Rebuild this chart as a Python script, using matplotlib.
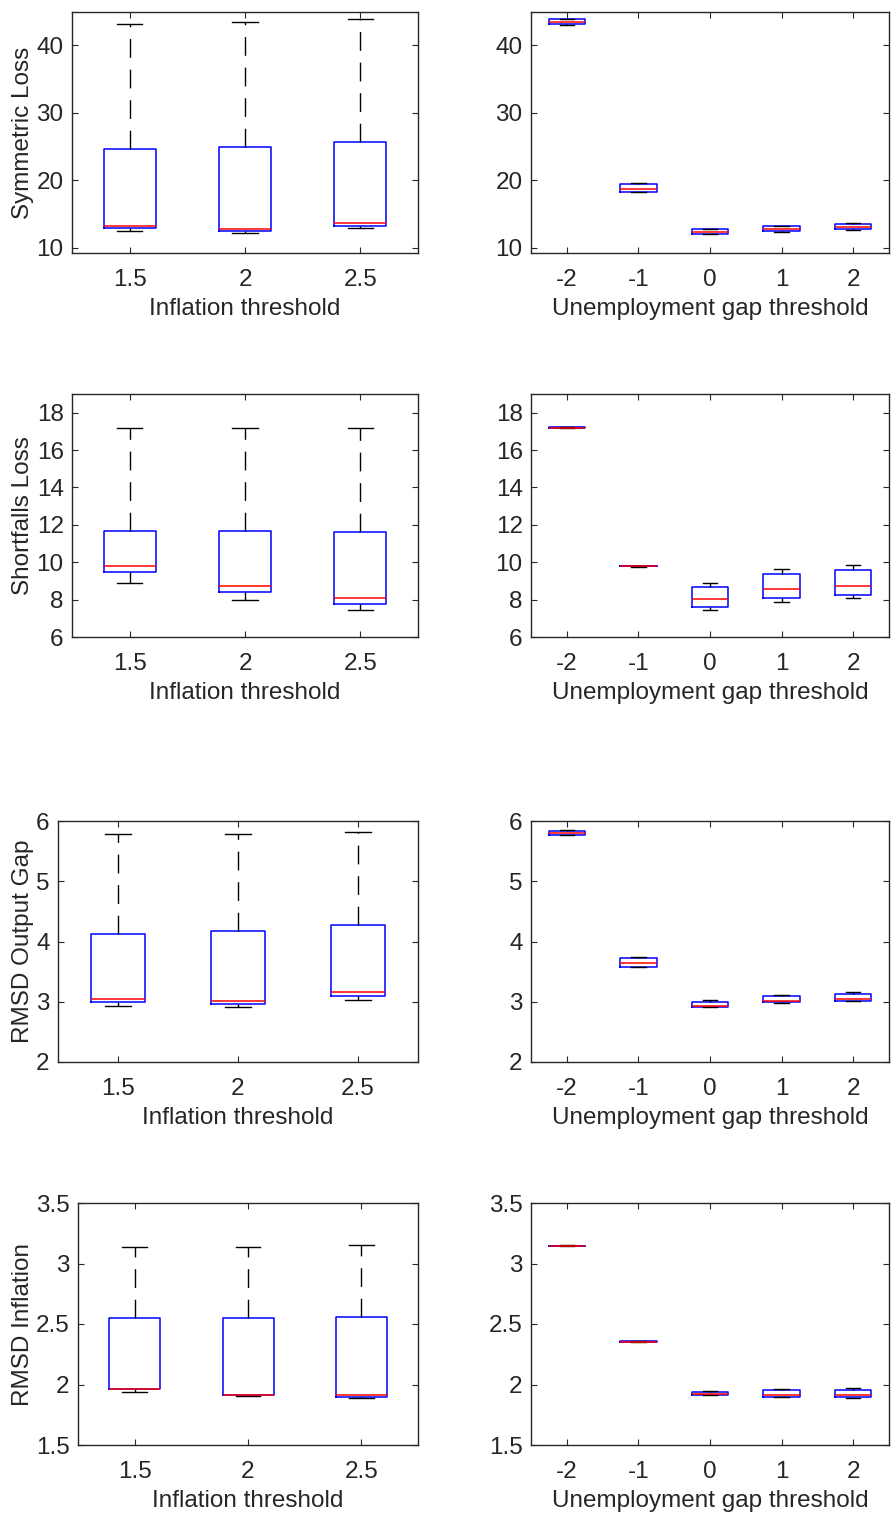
import matplotlib
matplotlib.use('Agg')
import matplotlib.pyplot as plt

plt.rcParams['font.family'] = ['Liberation Sans', 'DejaVu Sans']

# ---------------- data ----------------
infl_labels = ['1.5', '2', '2.5']
gap_labels = ['-2', '-1', '0', '1', '2']
row_ylabels = ['Symmetric Loss', 'Shortfalls Loss', 'RMSD Output Gap', 'RMSD Inflation']
xlabel_left = 'Inflation threshold'
xlabel_right = 'Unemployment gap threshold'

# Symmetric loss by inflation threshold
sym_infl_med = [13.26, 12.87, 13.75]
sym_infl_q1 = [12.92, 12.57, 13.30]
sym_infl_q3 = [24.60, 25.00, 25.70]
sym_infl_lo = [12.50, 12.27, 12.97]
sym_infl_hi = [43.10, 43.35, 43.80]
# Symmetric loss by unemployment gap threshold
sym_gap_med = [43.40, 18.68, 12.37, 12.87, 13.07]
sym_gap_q1 = [43.10, 18.30, 12.07, 12.52, 12.73]
sym_gap_q3 = [43.80, 19.40, 12.73, 13.21, 13.47]
sym_gap_lo = [43.00, 18.23, 12.02, 12.42, 12.62]
sym_gap_hi = [43.90, 19.57, 12.87, 13.30, 13.62]

# Shortfalls loss by inflation threshold
sf_infl_med = [9.80, 8.75, 8.11]
sf_infl_q1 = [9.47, 8.41, 7.77]
sf_infl_q3 = [11.68, 11.65, 11.62]
sf_infl_lo = [8.89, 8.00, 7.45]
sf_infl_hi = [17.16, 17.18, 17.20]
# Shortfalls loss by unemployment gap threshold
sf_gap_med = [17.20, 9.79, 8.02, 8.55, 8.75]
sf_gap_q1 = [17.19, 9.78, 7.59, 8.06, 8.25]
sf_gap_q3 = [17.21, 9.80, 8.66, 9.37, 9.59]
sf_gap_lo = [17.18, 9.77, 7.45, 7.87, 8.11]
sf_gap_hi = [17.22, 9.81, 8.89, 9.66, 9.86]

# RMSD output gap by inflation threshold
og_infl_med = [3.04, 3.02, 3.16]
og_infl_q1 = [3.00, 2.97, 3.10]
og_infl_q3 = [4.12, 4.18, 4.27]
og_infl_lo = [2.93, 2.92, 3.03]
og_infl_hi = [5.78, 5.79, 5.82]
# RMSD output gap by unemployment gap threshold
og_gap_med = [5.80, 3.64, 2.93, 3.02, 3.05]
og_gap_q1 = [5.77, 3.58, 2.91, 2.99, 3.02]
og_gap_q3 = [5.84, 3.72, 3.00, 3.09, 3.13]
og_gap_lo = [5.76, 3.57, 2.91, 2.98, 3.01]
og_gap_hi = [5.85, 3.75, 3.03, 3.11, 3.16]

# RMSD inflation by inflation threshold
pi_infl_med = [1.965, 1.915, 1.91]
pi_infl_q1 = [1.96, 1.91, 1.895]
pi_infl_q3 = [2.55, 2.55, 2.555]
pi_infl_lo = [1.94, 1.905, 1.89]
pi_infl_hi = [3.14, 3.14, 3.15]
# RMSD inflation by unemployment gap threshold
pi_gap_med = [3.146, 2.355, 1.923, 1.912, 1.912]
pi_gap_q1 = [3.144, 2.353, 1.912, 1.898, 1.896]
pi_gap_q3 = [3.148, 2.357, 1.940, 1.953, 1.956]
pi_gap_lo = [3.143, 2.352, 1.910, 1.893, 1.887]
pi_gap_hi = [3.149, 2.358, 1.945, 1.960, 1.967]

row_ylims = [(9.25, 44.9), (6, 19), (2, 6), (1.5, 3.5)]
row_yticks = [[10, 20, 30, 40], [6, 8, 10, 12, 14, 16, 18], [2, 3, 4, 5, 6],
              [1.5, 2, 2.5, 3, 3.5]]
row_yticklabels = [['10', '20', '30', '40'], ['6', '8', '10', '12', '14', '16', '18'],
                   ['2', '3', '4', '5', '6'], ['1.5', '2', '2.5', '3', '3.5']]

left_data = [
    (sym_infl_med, sym_infl_q1, sym_infl_q3, sym_infl_lo, sym_infl_hi),
    (sf_infl_med, sf_infl_q1, sf_infl_q3, sf_infl_lo, sf_infl_hi),
    (og_infl_med, og_infl_q1, og_infl_q3, og_infl_lo, og_infl_hi),
    (pi_infl_med, pi_infl_q1, pi_infl_q3, pi_infl_lo, pi_infl_hi),
]
right_data = [
    (sym_gap_med, sym_gap_q1, sym_gap_q3, sym_gap_lo, sym_gap_hi),
    (sf_gap_med, sf_gap_q1, sf_gap_q3, sf_gap_lo, sf_gap_hi),
    (og_gap_med, og_gap_q1, og_gap_q3, og_gap_lo, og_gap_hi),
    (pi_gap_med, pi_gap_q1, pi_gap_q3, pi_gap_lo, pi_gap_hi),
]

# ---------------- layout ----------------
W, H = 894, 1513
fig = plt.figure(figsize=(W / 100, H / 100), dpi=100)

row_tb = [(12, 253), (394, 637), (821, 1062), (1203, 1445)]
left_l = [72, 72, 58, 78]
left_r = 418
right_lr = (531, 889)

FS = 17.5
FRAME = '#262626'


def add_ax(l, t, r, b):
    return fig.add_axes([l / W, 1 - b / H, (r - l) / W, (b - t) / H])


def make_stats(med, q1, q3, lo, hi):
    return [dict(med=m, q1=a, q3=b, whislo=c, whishi=d, fliers=[])
            for m, a, b, c, d in zip(med, q1, q3, lo, hi)]


def draw(ax, data, labels, xlabel, ylim, yticks, yticklabels, width, capw):
    stats = make_stats(*data)
    pos = list(range(1, len(labels) + 1))
    ax.bxp(stats, positions=pos, widths=width, capwidths=capw, showfliers=False,
           boxprops=dict(color='#0000ff', linewidth=1.1),
           medianprops=dict(color='#ff0000', linewidth=1.1),
           whiskerprops=dict(color='black', linewidth=1.0, linestyle=(0, (13.5, 8.5))),
           capprops=dict(color='black', linewidth=1.0))
    ax.set_xlim(0.5, len(labels) + 0.5)
    ax.set_ylim(*ylim)
    ax.set_xticks(pos)
    ax.set_xticklabels(labels)
    ax.set_yticks(yticks)
    ax.set_yticklabels(yticklabels)
    ax.tick_params(direction='in', top=True, right=True, length=4, width=0.8,
                   colors=FRAME, labelsize=FS, labelcolor=FRAME)
    ax.tick_params(axis='x', pad=11.5)
    ax.tick_params(axis='y', pad=6)
    for s in ax.spines.values():
        s.set_color(FRAME)
        s.set_linewidth(1.0)
    ax.set_xlabel(xlabel, fontsize=FS, color=FRAME, labelpad=5)


for i in range(4):
    t, b = row_tb[i]
    axl = add_ax(left_l[i], t, left_r, b)
    draw(axl, left_data[i], infl_labels, xlabel_left, row_ylims[i],
         row_yticks[i], row_yticklabels[i], 0.45, 0.22)
    axl.set_ylabel(row_ylabels[i], fontsize=FS, color=FRAME)
    axl.yaxis.set_label_coords(34 / W, 1 - ((t + b) / 2) / H, transform=fig.transFigure)
    axr = add_ax(right_lr[0], t, right_lr[1], b)
    draw(axr, right_data[i], gap_labels, xlabel_right, row_ylims[i],
         row_yticks[i], row_yticklabels[i], 0.51, 0.2)

fig.savefig('out.png', dpi=100, facecolor='white')
